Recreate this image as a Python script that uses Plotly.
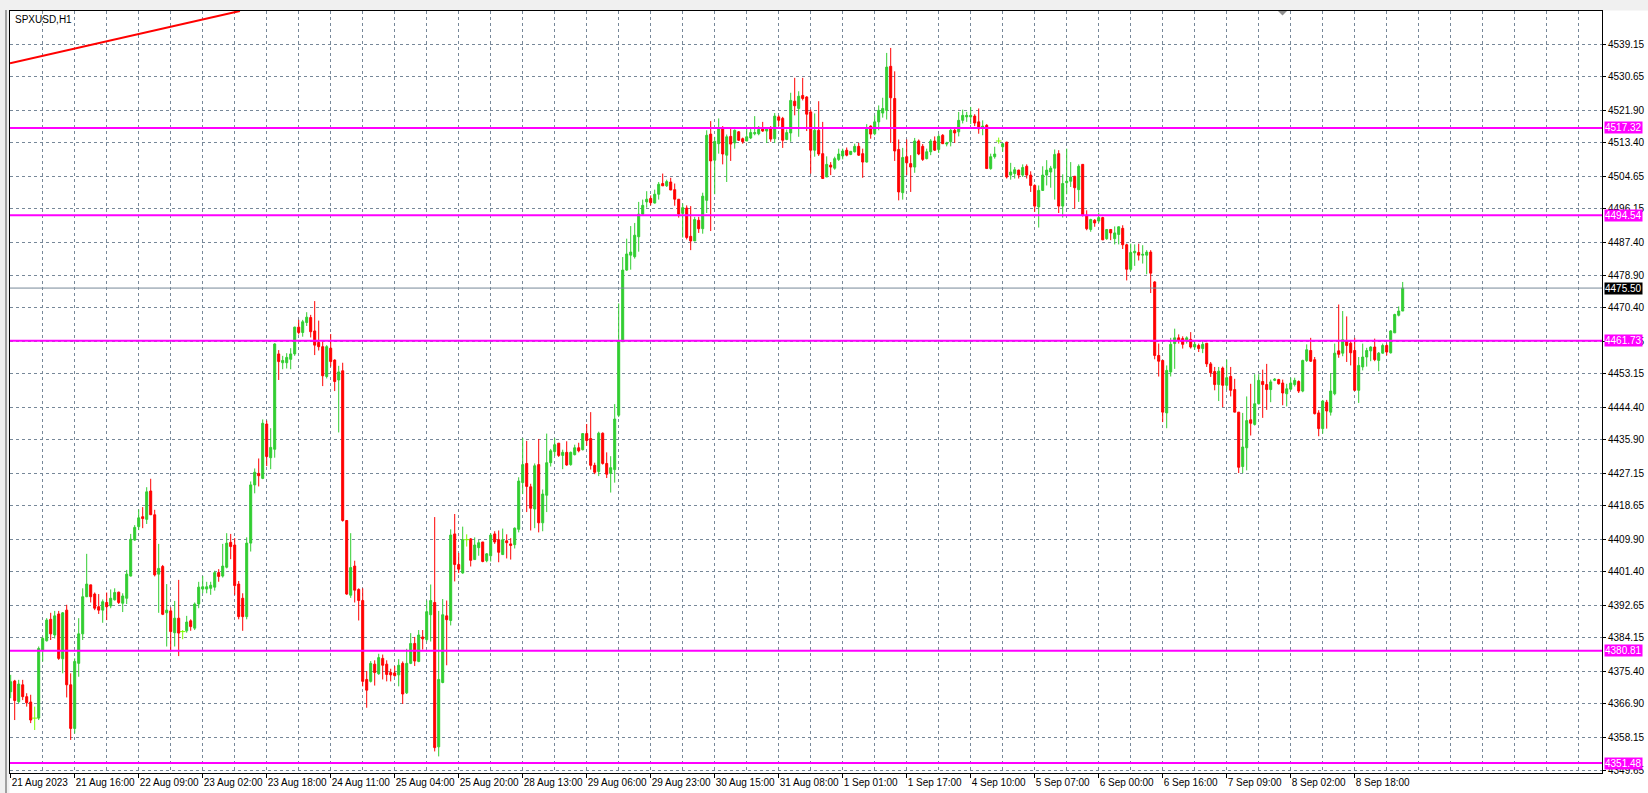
import plotly.graph_objects as go

# ---------------- data (SPXUSD, H1) ----------------
opens = [
4370.1,4372.9,4367.5,4371.9,4368.8,4367.4,4363.2,4363.2,4381.0,4383.4,
4389.0,4384.9,4390.4,4378.7,4391.4,4371.9,4360.5,4377.5,4385.2,4394.9,
4398.0,4395.6,4392.3,4391.4,4393.4,4392.5,4394.1,4396.1,4393.2,4394.5,
4400.3,4409.7,4413.2,4415.8,4415.1,4422.5,4416.3,4400.8,4402.8,4390.7,
4391.2,4385.5,4389.3,4385.8,4386.0,4388.6,4386.7,4393.0,4396.9,4396.9,
4397.1,4397.4,4401.2,4400.3,4402.6,4409.1,4408.4,4398.2,4394.5,4389.7,
4408.9,4424.1,4427.1,4425.8,4440.0,4431.2,4433.4,4458.3,4456.0,4456.0,
4456.9,4458.3,4465.3,4463.9,4466.5,4467.8,4464.3,4461.3,4460.2,4452.4,
4459.8,4456.7,4451.5,4453.9,4414.8,4395.3,4402.9,4396.8,4393.9,4373.3,
4372.8,4377.3,4374.8,4378.8,4377.3,4375.1,4375.0,4374.5,4377.5,4369.8,
4377.5,4382.7,4378.0,4384.4,4383.7,4390.2,4393.4,4355.7,4372.5,4389.9,
4388.7,4411.3,4403.3,4401.1,4409.8,4410.0,4404.6,4407.7,4409.2,4404.3,
4405.6,4411.3,4409.8,4405.9,4409.5,4408.7,4408.5,4412.5,4424.7,4429.7,
4423.6,4417.8,4429.4,4414.2,4421.4,4429.9,4432.8,4435.0,4431.8,4432.6,
4429.4,4432.0,4433.8,4433.3,4437.5,4436.2,4429.2,4427.6,4437.6,4429.7,
4427.1,4428.1,4442.3,4461.5,4480.2,4484.1,4483.7,4488.9,4494.8,4498.0,
4498.9,4497.7,4500.0,4502.8,4502.2,4503.2,4501.2,4498.7,4495.0,4496.4,
4489.0,4487.8,4493.2,4491.0,4498.4,4515.7,4508.9,4513.2,4517.3,4510.2,
4515.1,4513.4,4516.3,4514.5,4513.9,4514.7,4515.8,4515.8,4517.3,4516.5,
4517.4,4514.5,4520.2,4519.8,4514.3,4516.0,4524.3,4522.4,4525.8,4525.4,
4521.5,4511.5,4516.7,4510.6,4504.5,4507.6,4506.8,4509.1,4510.0,4511.5,
4510.4,4511.1,4512.5,4510.6,4508.4,4517.8,4515.8,4518.9,4521.2,4521.9,
4533.4,4525.0,4511.7,4500.4,4509.8,4508.0,4507.1,4513.9,4512.5,4509.3,
4511.1,4513.9,4511.7,4515.4,4513.1,4513.7,4516.7,4516.3,4519.3,4520.2,
4520.2,4520.4,4518.9,4517.4,4518.0,4506.7,4509.8,4513.9,4512.4,4513.6,
4505.0,4505.4,4506.3,4505.0,4507.3,4505.0,4502.3,4496.7,4501.0,4505.0,
4505.8,4506.8,4510.6,4496.9,4503.0,4503.4,4504.7,4501.2,4507.8,4494.5,
4490.8,4493.2,4493.0,4493.9,4488.4,4490.8,4488.4,4489.5,4491.1,4486.8,
4480.4,4484.7,4484.8,4484.1,4484.1,4484.9,4477.1,4457.9,4456.6,4442.9,
4453.6,4461.0,4462.5,4462.3,4461.7,4462.1,4460.1,4460.5,4459.7,4461.1,
4455.7,4453.7,4450.3,4454.6,4450.1,4452.4,4449.0,4443.1,4428.9,4433.8,
4441.1,4439.9,4445.3,4451.1,4450.3,4449.0,4451.4,4451.6,4450.7,4447.9,
4449.1,4450.3,4451.1,4448.6,4456.6,4459.2,4456.8,4442.9,4438.8,4445.7,
4443.1,4447.9,4459.1,4458.5,4461.8,4461.1,4459.2,4448.8,4454.9,4457.5,
4459.1,4460.1,4456.6,4458.5,4460.5,4458.6,4463.8,4468.4,4469.5]

highs = [
4374.5,4373.2,4373.2,4373.2,4369.7,4369.3,4366.2,4381.9,4384.5,4389.3,
4390.7,4391.2,4391.2,4390.9,4392.8,4374.9,4378.8,4389.3,4397.1,4406.1,
4398.0,4396.0,4395.6,4394.2,4396.0,4396.8,4397.1,4396.2,4395.8,4401.9,
4411.3,4413.6,4417.7,4418.3,4423.5,4425.7,4417.6,4408.7,4403.2,4398.2,
4392.1,4393.8,4399.3,4386.2,4389.9,4389.0,4393.4,4398.8,4400.3,4398.8,
4398.8,4401.7,4402.1,4408.7,4411.5,4411.3,4410.2,4399.0,4395.8,4410.4,
4425.0,4428.4,4431.0,4441.2,4440.9,4438.9,4461.1,4459.3,4457.8,4458.5,
4459.8,4465.4,4467.2,4467.2,4469.2,4468.5,4472.1,4467.0,4461.5,4460.6,
4463.5,4456.9,4455.2,4456.0,4414.9,4411.5,4404.3,4397.1,4397.1,4375.5,
4378.1,4378.3,4380.0,4379.8,4378.3,4376.1,4376.8,4378.6,4378.0,4381.3,
4385.4,4384.4,4386.2,4386.2,4393.9,4398.1,4415.7,4391.2,4394.3,4393.9,
4412.5,4416.5,4406.3,4413.2,4411.2,4410.2,4410.4,4409.7,4409.2,4406.3,
4411.5,4412.0,4412.2,4412.7,4411.2,4410.2,4413.0,4426.1,4436.3,4435.6,
4424.4,4429.7,4436.1,4422.9,4437.5,4433.5,4436.3,4435.0,4433.3,4435.5,
4432.8,4434.6,4435.1,4437.6,4440.0,4443.1,4429.9,4438.0,4437.8,4432.6,
4431.6,4445.2,4471.5,4483.6,4488.4,4491.7,4492.5,4498.0,4498.6,4500.8,
4499.7,4501.2,4503.2,4505.4,4503.8,4504.3,4502.8,4498.7,4497.6,4497.1,
4496.9,4494.1,4494.1,4500.4,4516.7,4519.1,4515.0,4519.8,4517.8,4515.6,
4517.3,4516.9,4516.5,4514.8,4517.4,4517.4,4520.4,4517.8,4518.9,4517.4,
4517.8,4521.2,4520.6,4520.2,4516.9,4526.5,4530.4,4526.9,4530.4,4525.6,
4522.1,4521.1,4524.3,4518.9,4509.9,4508.4,4509.8,4511.9,4511.9,4512.2,
4511.3,4513.2,4513.4,4511.9,4518.3,4518.0,4520.6,4523.2,4525.2,4536.9,
4538.2,4532.1,4514.3,4512.1,4514.3,4510.2,4514.7,4514.3,4513.1,4511.9,
4514.4,4515.1,4515.7,4515.7,4513.7,4517.1,4517.4,4521.5,4522.1,4521.5,
4522.8,4520.9,4522.4,4519.3,4518.3,4510.6,4512.4,4514.8,4513.4,4513.7,
4508.2,4507.1,4506.4,4507.8,4507.8,4506.0,4502.6,4502.3,4507.3,4508.9,
4507.4,4511.7,4511.5,4505.2,4511.9,4508.4,4504.7,4507.8,4507.8,4495.8,
4493.6,4493.5,4495.2,4494.1,4490.8,4490.8,4491.6,4491.6,4491.9,4487.1,
4487.1,4486.9,4487.1,4486.7,4485.4,4485.4,4477.3,4461.0,4456.6,4455.3,
4462.5,4464.9,4463.4,4462.9,4462.9,4464.0,4461.8,4461.0,4461.8,4461.1,
4456.2,4454.9,4454.9,4455.0,4456.8,4454.9,4451.8,4443.1,4442.9,4447.2,
4450.5,4453.0,4453.0,4454.2,4455.7,4451.6,4452.0,4451.8,4451.6,4450.5,
4452.1,4452.1,4451.4,4456.8,4460.8,4462.5,4457.5,4443.6,4446.3,4446.3,
4453.3,4461.0,4471.2,4469.5,4468.1,4461.8,4462.5,4457.5,4461.0,4459.9,
4460.3,4462.3,4458.8,4461.0,4461.0,4464.5,4468.8,4470.7,4477.1]

lows = [
4368.4,4362.7,4367.1,4367.9,4366.2,4361.9,4360.1,4362.7,4378.0,4383.2,
4383.6,4384.0,4378.4,4374.9,4368.6,4357.5,4359.2,4374.0,4383.6,4394.8,
4393.4,4391.4,4390.4,4388.1,4388.8,4391.9,4393.9,4393.0,4390.9,4393.0,
4400.2,4409.5,4412.3,4412.8,4413.9,4416.3,4400.2,4390.7,4390.1,4381.9,
4380.6,4381.9,4379.4,4383.8,4385.5,4386.0,4386.2,4391.9,4395.8,4395.8,
4395.4,4396.5,4398.8,4399.9,4402.3,4404.7,4395.4,4389.0,4386.0,4389.0,
4406.7,4421.9,4423.7,4425.6,4429.0,4428.2,4431.2,4451.5,4454.3,4454.5,
4454.3,4457.8,4463.4,4462.8,4465.6,4462.6,4458.0,4459.2,4449.9,4451.9,
4455.0,4448.6,4437.8,4414.5,4395.4,4394.6,4393.4,4388.7,4371.5,4365.9,
4372.5,4371.7,4374.5,4373.3,4372.8,4372.8,4374.0,4371.5,4366.9,4369.5,
4377.3,4376.8,4377.8,4381.1,4383.2,4383.2,4354.5,4353.2,4372.3,4377.0,
4387.4,4398.9,4401.1,4400.9,4408.0,4402.8,4404.6,4405.6,4403.9,4403.9,
4404.1,4408.7,4403.9,4405.9,4404.9,4404.6,4407.5,4411.7,4421.7,4417.0,
4412.2,4412.8,4411.7,4412.0,4417.0,4428.9,4431.6,4431.4,4428.2,4429.1,
4429.1,4431.8,4432.6,4433.1,4434.3,4428.1,4426.9,4426.4,4429.4,4425.9,
4422.1,4424.7,4441.8,4461.5,4480.0,4480.3,4483.2,4485.0,4494.5,4496.5,
4497.1,4497.6,4498.6,4502.2,4501.9,4501.1,4497.0,4493.9,4488.7,4488.2,
4485.4,4487.8,4489.9,4489.7,4495.1,4490.4,4500.0,4510.6,4507.8,4503.2,
4508.7,4511.9,4513.9,4513.2,4513.9,4514.4,4515.4,4515.4,4516.3,4513.4,
4513.7,4513.4,4517.8,4512.1,4514.1,4513.7,4520.6,4515.0,4524.5,4516.5,
4505.4,4509.8,4510.0,4504.1,4504.5,4505.0,4506.4,4508.7,4509.1,4509.9,
4510.2,4510.9,4510.0,4504.3,4508.3,4514.5,4515.4,4516.7,4520.0,4519.5,
4513.4,4508.7,4498.4,4498.6,4505.0,4500.6,4505.6,4510.2,4508.7,4509.1,
4510.2,4511.3,4510.8,4513.2,4512.5,4512.5,4513.4,4515.1,4518.5,4518.9,
4518.3,4517.8,4515.8,4515.4,4506.7,4506.4,4509.3,4513.2,4511.1,4504.1,
4503.8,4504.1,4504.1,4504.5,4504.1,4500.6,4495.4,4491.3,4500.9,4502.3,
4501.7,4498.6,4495.1,4493.9,4500.0,4501.9,4496.2,4498.0,4494.2,4490.6,
4490.2,4491.5,4492.5,4488.0,4488.1,4488.0,4486.9,4486.9,4485.7,4477.5,
4480.0,4481.3,4482.7,4481.9,4479.1,4474.2,4456.9,4452.4,4440.5,4438.9,
4452.4,4454.4,4461.0,4459.7,4461.0,4459.7,4459.4,4458.8,4458.5,4454.9,
4452.3,4448.8,4446.0,4444.4,4449.0,4447.2,4443.1,4427.2,4427.2,4427.9,
4437.0,4439.6,4445.1,4441.6,4443.7,4445.7,4451.2,4450.3,4444.9,4444.6,
4448.8,4449.8,4448.1,4448.3,4456.2,4456.2,4442.5,4436.8,4437.5,4438.8,
4442.2,4447.5,4457.3,4457.7,4456.2,4455.3,4448.6,4445.5,4454.0,4455.0,
4456.4,4456.4,4453.8,4458.4,4457.9,4458.4,4463.8,4468.1,4469.5]

closes = [
4372.7,4367.8,4372.1,4368.8,4367.2,4362.7,4363.2,4381.4,4384.0,4388.8,
4385.2,4389.9,4378.8,4390.7,4371.9,4360.5,4378.0,4385.2,4394.9,4398.2,
4394.9,4391.9,4391.4,4393.6,4392.3,4394.5,4396.0,4393.4,4395.1,4400.8,
4409.9,4413.0,4415.5,4415.3,4422.3,4416.3,4400.6,4402.3,4390.3,4391.4,
4385.8,4389.3,4385.4,4385.8,4388.3,4387.1,4393.0,4397.4,4397.5,4397.5,
4397.9,4401.2,4400.2,4402.9,4408.9,4408.0,4397.8,4389.7,4389.7,4408.9,
4424.1,4427.4,4426.5,4440.2,4431.5,4433.9,4460.9,4456.3,4456.6,4457.4,
4458.3,4465.3,4463.9,4466.7,4467.9,4464.1,4460.6,4460.2,4452.6,4460.2,
4456.3,4451.1,4453.6,4414.8,4395.6,4402.5,4396.6,4393.9,4372.8,4370.5,
4377.5,4375.1,4379.0,4377.0,4374.6,4374.5,4374.3,4377.0,4369.5,4377.5,
4382.7,4378.1,4384.9,4383.9,4391.0,4393.9,4355.5,4373.3,4390.2,4388.9,
4411.0,4403.3,4402.1,4409.8,4409.8,4404.4,4408.4,4409.0,4404.1,4406.1,
4411.0,4409.2,4406.5,4409.8,4409.0,4408.3,4412.8,4425.1,4429.4,4423.7,
4418.0,4429.1,4414.2,4421.7,4429.9,4433.0,4434.6,4431.8,4432.6,4429.3,
4432.6,4433.8,4433.0,4437.5,4435.7,4429.2,4427.4,4437.6,4429.7,4426.9,
4428.6,4441.3,4461.6,4480.2,4484.4,4484.9,4489.3,4494.8,4497.1,4498.7,
4497.8,4500.0,4502.6,4502.2,4503.3,4501.1,4498.7,4494.8,4496.5,4488.7,
4487.8,4493.4,4491.0,4499.5,4515.4,4508.7,4513.8,4517.4,4510.5,4515.0,
4513.1,4516.7,4514.1,4513.7,4515.0,4516.1,4516.1,4516.9,4516.5,4517.1,
4514.4,4520.4,4519.3,4514.1,4516.1,4524.5,4523.1,4525.6,4525.0,4520.9,
4511.5,4516.7,4510.5,4504.1,4507.8,4507.1,4509.3,4510.5,4511.3,4510.2,
4511.2,4512.5,4510.2,4508.4,4517.4,4515.7,4518.9,4521.9,4522.4,4533.2,
4525.2,4511.3,4500.6,4509.6,4508.2,4507.1,4513.9,4510.5,4509.1,4511.1,
4513.9,4511.5,4515.1,4513.2,4513.4,4516.7,4516.0,4519.3,4520.6,4520.6,
4520.6,4518.6,4517.1,4517.8,4506.7,4509.8,4510.5,4513.9,4513.2,4504.5,
4505.8,4506.4,4505.0,4507.0,4505.0,4502.3,4496.9,4501.0,4505.0,4506.3,
4506.8,4510.4,4496.9,4502.8,4503.4,4504.5,4501.7,4507.3,4494.5,4491.0,
4493.4,4492.5,4493.9,4488.1,4490.8,4489.9,4489.9,4491.5,4486.8,4480.4,
4484.8,4485.1,4484.1,4484.3,4484.9,4479.4,4457.9,4456.4,4443.1,4454.0,
4460.8,4462.5,4461.8,4460.8,4462.5,4460.1,4460.8,4459.7,4460.8,4455.7,
4453.4,4450.3,4453.8,4450.1,4452.1,4448.8,4443.1,4428.7,4434.0,4440.9,
4440.2,4445.3,4451.4,4450.3,4449.0,4451.0,4451.7,4450.5,4448.1,4449.2,
4450.7,4451.4,4448.6,4456.6,4459.4,4456.4,4442.7,4438.8,4446.0,4443.4,
4448.6,4458.5,4458.2,4462.0,4460.5,4458.6,4448.8,4455.3,4457.5,4459.2,
4460.1,4456.8,4458.5,4460.5,4458.8,4464.3,4468.6,4469.5,4475.5]

doji_bars = [6, 43, 114, 247]

time_labels = ["21 Aug 2023", "21 Aug 16:00", "22 Aug 09:00", "23 Aug 02:00",
               "23 Aug 18:00", "24 Aug 11:00", "25 Aug 04:00", "25 Aug 20:00",
               "28 Aug 13:00", "29 Aug 06:00", "29 Aug 23:00", "30 Aug 15:00",
               "31 Aug 08:00", "1 Sep 01:00", "1 Sep 17:00", "4 Sep 10:00",
               "5 Sep 07:00", "6 Sep 00:00", "6 Sep 16:00", "7 Sep 09:00",
               "8 Sep 02:00", "8 Sep 18:00"]
bars_per_label = 16

price_ticks = [4539.15, 4530.65, 4521.90, 4513.40, 4504.65, 4496.15, 4487.40,
               4478.90, 4470.40, 4461.65, 4453.15, 4444.40, 4435.90, 4427.15,
               4418.65, 4409.90, 4401.40, 4392.65, 4384.15, 4375.40, 4366.90,
               4358.15, 4349.65]

level_lines = [4517.32, 4494.54, 4461.73, 4380.81, 4351.48]
current_price = 4475.50

trend_x = [-0.175, 57.3]
trend_y = [4534.2, 4547.85]

y_range = [4348.87, 4547.85]
x_range = [-0.175, 397.825]

# ---------------- figure ----------------
W, H = 1648, 793
ML, MR, MT, MB = 10, 46, 11, 20
PW, PH = W - ML - MR, H - MT - MB
GRID = '#778899'
FONT = 'Liberation Sans, Arial, sans-serif'
FS = 10

n = len(opens)
xs = list(range(n))
main_idx = [i for i in xs if i not in doji_bars]

fig = go.Figure()
fig.add_trace(go.Candlestick(
    x=[xs[i] for i in main_idx],
    open=[opens[i] for i in main_idx],
    high=[highs[i] for i in main_idx],
    low=[lows[i] for i in main_idx],
    close=[closes[i] for i in main_idx],
    increasing=dict(line=dict(color='#32CD32', width=1), fillcolor='#32CD32'),
    decreasing=dict(line=dict(color='#FF0000', width=1), fillcolor='#FF0000'),
    whiskerwidth=0, showlegend=False, hoverinfo='skip'))

fig.add_trace(go.Scatter(
    x=doji_bars, y=[closes[i] for i in doji_bars], mode='markers',
    marker=dict(symbol='line-ew', size=4, color='#7CFC00',
                line=dict(color='#7CFC00', width=1)),
    error_y=dict(type='data', symmetric=False,
                 array=[highs[i] - closes[i] for i in doji_bars],
                 arrayminus=[closes[i] - lows[i] for i in doji_bars],
                 width=0, thickness=1, color='#7CFC00'),
    showlegend=False, hoverinfo='skip'))

major = [bars_per_label * k for k in range(len(time_labels))]
minor = [v for v in range(8, int(x_range[1]) + 1, 8) if v not in major]


def px_x(p):
    return (p - ML) / PW


def px_y(p):
    return (H - MB - p) / PH


shapes = []
# window chrome: grey strips above and left of the chart
shapes.append(dict(type='rect', xref='paper', yref='paper',
                   x0=px_x(0), x1=px_x(W), y0=px_y(10.5), y1=px_y(0),
                   fillcolor='#F0F0F0', line=dict(width=0), layer='below'))
shapes.append(dict(type='rect', xref='paper', yref='paper',
                   x0=px_x(0), x1=px_x(9.5), y0=px_y(H), y1=px_y(0),
                   fillcolor='#F0F0F0', line=dict(width=0), layer='below'))
shapes.append(dict(type='line', xref='paper', yref='paper',
                   x0=px_x(6), x1=px_x(6), y0=px_y(H), y1=px_y(10),
                   line=dict(color='#A0A0A0', width=2), layer='below'))

for v in level_lines:
    shapes.append(dict(type='line', xref='paper', yref='y', x0=0, x1=1, y0=v, y1=v,
                       line=dict(color='#FF00FF', width=2), layer='above'))
shapes.append(dict(type='line', xref='paper', yref='y', x0=0, x1=1,
                   y0=current_price, y1=current_price,
                   line=dict(color=GRID, width=1), layer='above'))
shapes.append(dict(type='line', xref='x', yref='y', x0=trend_x[0], x1=trend_x[1],
                   y0=trend_y[0], y1=trend_y[1],
                   line=dict(color='#FF0000', width=2), layer='above'))
# chart-shift marker
shapes.append(dict(type='path', xref='paper', yref='paper',
                   path='M {a},{t} L {b},{t} L {c},{u} Z'.format(
                       a=px_x(1278), b=px_x(1287), c=px_x(1282.5),
                       t=px_y(11), u=px_y(15.5)),
                   fillcolor='#909090', line=dict(width=0), layer='above'))

annotations = [dict(text='SPXUSD,H1', xref='paper', yref='paper', x=0, y=1,
                    xanchor='left', yanchor='top', xshift=3, yshift=-1,
                    showarrow=False, font=dict(family=FONT, size=FS, color='black'))]
for v in level_lines:
    annotations.append(dict(text=f'{v:.2f}', xref='paper', yref='y', x=1, y=v,
                            xanchor='left', yanchor='middle', xshift=2,
                            showarrow=False, bgcolor='#FF00FF', borderpad=0,
                            font=dict(family=FONT, size=FS, color='white')))
annotations.append(dict(text=f'{current_price:.2f}', xref='paper', yref='y', x=1,
                        y=current_price, xanchor='left', yanchor='middle', xshift=2,
                        showarrow=False, bgcolor='black', borderpad=0,
                        font=dict(family=FONT, size=FS, color='white')))

fig.update_layout(
    width=W, height=H, margin=dict(l=ML, r=MR, t=MT, b=MB, pad=0, autoexpand=False),
    paper_bgcolor='white', plot_bgcolor='white', showlegend=False,
    boxgap=0.5, boxgroupgap=0, hovermode=False,
    shapes=shapes, annotations=annotations,
    xaxis=dict(range=x_range, rangeslider=dict(visible=False), automargin=False,
               tickmode='array', tickvals=major, ticktext=time_labels, tickangle=0,
               ticks='outside', ticklen=4, tickcolor='black', tickwidth=1,
               ticklabelposition='outside right',
               tickfont=dict(family=FONT, size=FS, color='black'),
               showgrid=True, gridcolor=GRID, griddash='3px,3px', gridwidth=1,
               minor=dict(tickmode='array', tickvals=minor, showgrid=True,
                          gridcolor=GRID, griddash='3px,3px', gridwidth=1, ticks=''),
               showline=True, linecolor='black', linewidth=1, mirror=True,
               zeroline=False, fixedrange=True),
    yaxis=dict(range=y_range, side='right', automargin=False,
               tickmode='array', tickvals=price_ticks,
               ticktext=[f'{v:.2f}' for v in price_ticks],
               ticks='outside', ticklen=3, tickcolor='black', tickwidth=1,
               tickfont=dict(family=FONT, size=FS, color='black'),
               showgrid=True, gridcolor=GRID, griddash='3px,3px', gridwidth=1,
               showline=True, linecolor='black', linewidth=1, mirror=True,
               zeroline=False, fixedrange=True),
)

fig.write_html('out.html', config={'displayModeBar': False, 'staticPlot': True},
               post_script="document.body.style.margin='0px';"
                           "document.body.style.overflow='hidden';")
